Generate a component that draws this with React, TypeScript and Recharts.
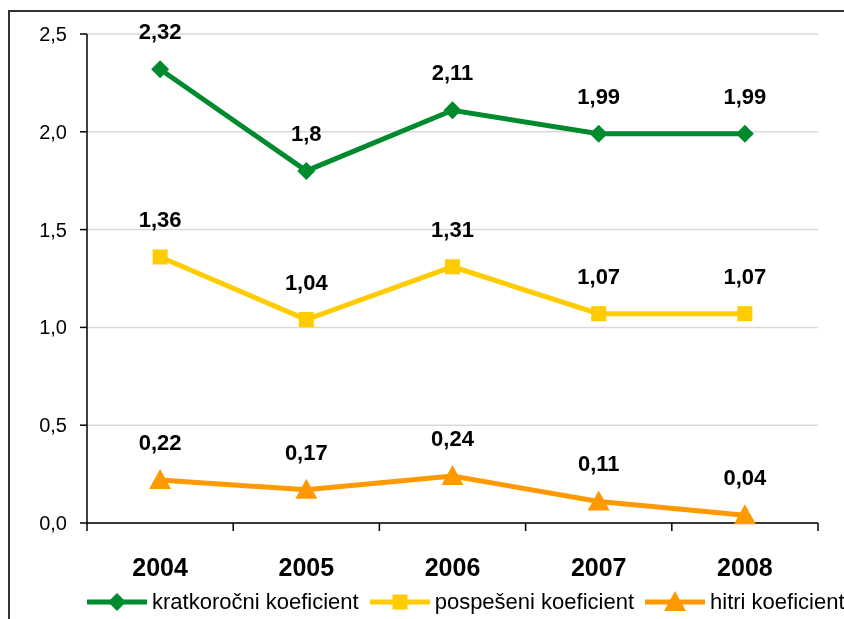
import { LineChart, Line, XAxis, YAxis, CartesianGrid, LabelList } from "recharts";

const years = ["2004", "2005", "2006", "2007", "2008"];
const kratkorocni = [2.32, 1.8, 2.11, 1.99, 1.99];
const pospeseni = [1.36, 1.04, 1.31, 1.07, 1.07];
const hitri = [0.22, 0.17, 0.24, 0.11, 0.04];
const yTicks = [0, 0.5, 1, 1.5, 2, 2.5];

const series = [
  { key: "kratkorocni", name: "kratkoročni koeficient", color: "#008a2e", shape: "diamond" },
  { key: "pospeseni", name: "pospešeni koeficient", color: "#ffcc00", shape: "square" },
  { key: "hitri", name: "hitri koeficient", color: "#ff9900", shape: "triangle" },
];

const data = years.map((year, i) => ({
  year,
  kratkorocni: kratkorocni[i],
  pospeseni: pospeseni[i],
  hitri: hitri[i],
}));

const W = 844;
const H = 619;
const M = { top: 34, right: 26, left: 27, bottom: 41 };
const Y_W = 60;
const PLOT_W = W - M.left - M.right - Y_W;
const BAND = PLOT_W / years.length;
const FONT = "'Liberation Sans', Arial, sans-serif";

const comma = (v: number, d?: number) =>
  (d === undefined ? String(v) : v.toFixed(d)).replace(".", ",");

function Marker({ shape, cx, cy, color }: { shape: string; cx: number; cy: number; color: string }) {
  if (shape === "diamond") {
    const r = 9;
    return <polygon points={`${cx},${cy - r} ${cx + r},${cy} ${cx},${cy + r} ${cx - r},${cy}`} fill={color} />;
  }
  if (shape === "square") {
    const r = 7.5;
    return <rect x={cx - r} y={cy - r} width={r * 2} height={r * 2} fill={color} />;
  }
  return <polygon points={`${cx},${cy - 11} ${cx + 11},${cy + 9} ${cx - 11},${cy + 9}`} fill={color} />;
}

function makeDot(shape: string, color: string) {
  return (p: any) => {
    if (p.cx == null || p.cy == null) return <g key={p.index} />;
    return <Marker key={p.index} shape={shape} cx={p.cx} cy={p.cy} color={color} />;
  };
}

function YearTick(p: any) {
  const { x, y, payload, index } = p;
  const left = x - BAND / 2;
  return (
    <g>
      <line x1={left} y1={y} x2={left} y2={y + 8} stroke="#000" strokeWidth={1.5} />
      {index === years.length - 1 && (
        <line x1={x + BAND / 2} y1={y} x2={x + BAND / 2} y2={y + 8} stroke="#000" strokeWidth={1.5} />
      )}
      <text x={x} y={y + 53} textAnchor="middle" fontFamily={FONT} fontWeight="bold" fontSize={25} fill="#000">
        {payload.value}
      </text>
    </g>
  );
}

function ValueTick(p: any) {
  const { x, y, payload } = p;
  return (
    <text x={x} y={y + 7} textAnchor="end" fontFamily={FONT} fontSize={20} fill="#000">
      {comma(payload.value, 1)}
    </text>
  );
}

function ChartLegend() {
  return (
    <div
      style={{
        position: "fixed",
        left: 87,
        top: 589,
        display: "flex",
        alignItems: "center",
        fontFamily: FONT,
        fontSize: 22,
        color: "#000",
        whiteSpace: "nowrap",
      }}
    >
      {series.map((s) => (
        <div key={s.key} style={{ display: "flex", alignItems: "center", marginRight: 11, flexShrink: 0 }}>
          <svg width={60} height={24}>
            <line x1={0} y1={12} x2={60} y2={12} stroke={s.color} strokeWidth={5} />
            <Marker shape={s.shape} cx={30} cy={12} color={s.color} />
          </svg>
          <span style={{ marginLeft: 5 }}>{s.name}</span>
        </div>
      ))}
    </div>
  );
}

export default function App() {
  return (
    <div>
      <div
        style={{
          position: "fixed",
          left: 8,
          top: 10,
          width: 845,
          height: 630,
          border: "2px solid #333",
          boxSizing: "border-box",
        }}
      />
      <div style={{ position: "fixed", left: 0, top: 0 }}>
        <LineChart width={W} height={H} data={data} margin={M}>
          <CartesianGrid horizontal vertical={false} stroke="#d9d9d9" strokeWidth={1.5} />
          <XAxis
            dataKey="year"
            height={55}
            padding={{ left: BAND / 2, right: BAND / 2 }}
            axisLine={{ stroke: "#000", strokeWidth: 1.5 }}
            tickLine={false}
            tickSize={0}
            tickMargin={0}
            tick={YearTick}
            interval={0}
          />
          <YAxis
            width={Y_W}
            domain={[0, 2.5]}
            ticks={yTicks}
            interval={0}
            axisLine={{ stroke: "#000", strokeWidth: 1.5 }}
            tickLine={{ stroke: "#000", strokeWidth: 1.5 }}
            tickSize={7}
            tickMargin={13}
            tick={ValueTick}
          />
          {series.map((s) => (
            <Line
              key={s.key}
              dataKey={s.key}
              name={s.name}
              stroke={s.color}
              strokeWidth={5}
              dot={makeDot(s.shape, s.color)}
              activeDot={false}
              isAnimationActive={false}
            >
              <LabelList
                dataKey={s.key}
                position="top"
                offset={30}
                formatter={(v: any) => comma(v)}
                style={{ fontFamily: FONT, fontWeight: "bold", fontSize: 22, fill: "#000" }}
              />
            </Line>
          ))}
        </LineChart>
      </div>
      <ChartLegend />
    </div>
  );
}
